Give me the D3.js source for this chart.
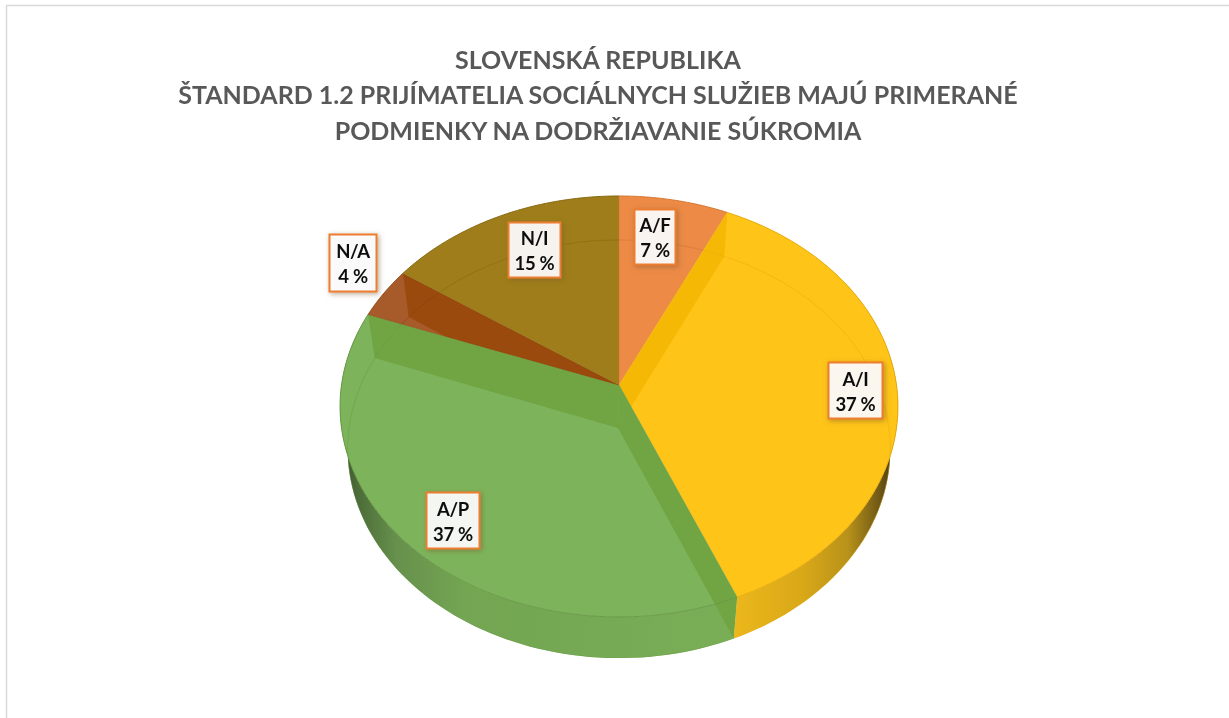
<!DOCTYPE html>
<html><head><meta charset="utf-8">
<script src="https://cdn.jsdelivr.net/npm/d3@7/dist/d3.min.js"></script>
<style>html,body{margin:0;background:#fff}svg{display:block}text{font-family:Lato,"Open Sans",sans-serif;font-weight:700}</style>
</head><body><svg id="c" width="1229" height="718"></svg>
<script>
// data
const categories = ["A/F","A/I","A/P","N/A","N/I"];
const values = [7,36.7,37,3.9,15.4];
const titleLines = ["SLOVENSKÁ REPUBLIKA","ŠTANDARD 1.2 PRIJÍMATELIA SOCIÁLNYCH SLUŽIEB MAJÚ PRIMERANÉ","PODMIENKY NA DODRŽIAVANIE SÚKROMIA"];
const topColors = ["#EC8A46","#FFC418","#7DB45B","#A85B2A","#9E7D1A"];
const wallColors = ["#EC8A46","#F5B804","#71A442","#9A4A0C","#9E7D1A"];
const rimColors = ["#D5762F","#E8AE10","#6A9C48","#8A420C","#876A10"];
// layout of the label boxes (centres) – not data
const labelCentres = [[655,237],[855.5,390.5],[453,520.5],[353,263],[534.5,250]];

const svg = d3.select("#c");
const defs = svg.append("defs");

// perspective projection of the pie's two discs
const disc = (cy,g,f,k) => (a,r=1) => {
  const u = Math.sin(a)*r, v = -Math.cos(a)*r, d = 1-k*v;
  return [619+g*u/d, cy+f*v/d];
};
const topDisc = disc(385,277.5,208.3,0.102);
const botDisc = disc(428,270,207,0.1005);
const line = d3.line();
const arcPts = (fn,a0,a1) => d3.range(0,1.0001,1/80).map(t => fn(a0+(a1-a0)*t));

const arcs = d3.pie().sort(null)(values);

// frame
svg.append("path").attr("d","M6.5,718V5.5H1229").attr("fill","none").attr("stroke","#D9D9D9").attr("stroke-width",1.5);

const soft = defs.append("filter").attr("id","soft").attr("x","-5%").attr("y","-10%").attr("width","110%").attr("height","120%");
soft.append("feGaussianBlur").attr("stdDeviation",0.35);

// title
svg.append("g").attr("filter","url(#soft)").selectAll("text").data(titleLines).join("text")
  .attr("x",598).attr("y",(d,i)=>[69,104,140][i]).attr("text-anchor","middle")
  .attr("font-size",25).attr("fill","#595959").text(d=>d);

// side gradients
const grad = (id,stops) => {
  const g = defs.append("linearGradient").attr("id",id).attr("gradientUnits","userSpaceOnUse")
    .attr("x1",340).attr("x2",898).attr("y1",0).attr("y2",0);
  stops.forEach(s=>g.append("stop").attr("offset",s[0]).attr("stop-color",s[1]));
};
grad("sideG",[[0,"#3A5228"],[0.03,"#4C6B38"],[0.1,"#66904C"],[0.22,"#73A552"],[0.7,"#7AAE56"],[1,"#7AAE56"]]);
grad("sideY",[[0,"#EDB81C"],[0.7,"#EDB81C"],[0.83,"#D9A818"],[0.91,"#B8921A"],[0.97,"#6B5515"],[1,"#3A3010"]]);
const sideFill = ["none","url(#sideY)","url(#sideG)","none","none"];

const f = defs.append("filter").attr("id","sh").attr("x","-30%").attr("y","-30%").attr("width","170%").attr("height","170%");
f.append("feDropShadow").attr("dx",1.5).attr("dy",1.5).attr("stdDeviation",2.5).attr("flood-color","#7a5a30").attr("flood-opacity",.55);

const secPath = (a) => line([[619,385],...arcPts(topDisc,a.startAngle,a.endAngle)])+"Z";
const sidePath = (a) => line([...arcPts(topDisc,a.startAngle,a.endAngle),...arcPts(botDisc,a.startAngle,a.endAngle).reverse()])+"Z";
const wallPath = (ang) => line([[619,385],topDisc(ang),botDisc(ang),[618,428]])+"Z";

arcs.forEach((a,i)=>{
  const cp = defs.append("clipPath").attr("id","cl"+i);
  cp.append("path").attr("d",secPath(a));
  if(sideFill[i]!=="none") cp.append("path").attr("d",sidePath(a));
});

const pie = svg.append("g");
// sides first
arcs.forEach((a,i)=>{
  if(sideFill[i]!=="none") pie.append("path").attr("d",sidePath(a)).attr("fill",sideFill[i]);
});
// top faces
arcs.forEach((a,i)=>{
  pie.append("path").attr("d",secPath(a)).attr("fill",topColors[i]);
  const g = pie.append("g").attr("clip-path",`url(#cl${i})`);
  [a.startAngle,a.endAngle].forEach(ang=>{
    g.append("path").attr("d",wallPath(ang)).attr("fill",wallColors[i]);
  });
  // lower rim seen through the face
  g.append("path").attr("d",line(arcPts(botDisc,0,2*Math.PI))).attr("fill","none")
    .attr("stroke",rimColors[i]).attr("stroke-width",1).attr("stroke-opacity",.55);
});
// outlines of the top edge
arcs.forEach((a,i)=>{
  pie.append("path").attr("d",line(arcPts(topDisc,a.startAngle,a.endAngle))).attr("fill","none")
    .attr("stroke",rimColors[i]).attr("stroke-width",1);
  pie.append("path").attr("d",line([[619,385],topDisc(a.startAngle)])).attr("fill","none")
    .attr("stroke",rimColors[i]).attr("stroke-width",.6).attr("stroke-opacity",.7);
});

// labels
const sizes = [[41,55],[54,56],[53,56],[47,57],[52,55]];
const lab = svg.append("g").selectAll("g").data(categories).join("g")
  .attr("transform",(d,i)=>`translate(${labelCentres[i]})`);
lab.append("rect")
  .attr("x",(d,i)=>-sizes[i][0]/2).attr("y",(d,i)=>-sizes[i][1]/2)
  .attr("width",(d,i)=>sizes[i][0]).attr("height",(d,i)=>sizes[i][1])
  .attr("fill","#fff").attr("fill-opacity",.9).attr("stroke","#ED7D31").attr("stroke-width",2)
  .attr("filter","url(#sh)");
const tg = lab.append("g").attr("filter","url(#soft)");
tg.append("text").attr("text-anchor","middle").attr("y",-5).attr("font-size",18.5).attr("letter-spacing",-0.3).attr("fill","#111").text(d=>d);
tg.append("text").attr("text-anchor","middle").attr("y",20).attr("font-size",18.5).attr("letter-spacing",-0.3).attr("fill","#111").text((d,i)=>Math.round(values[i])+" %");
</script></body></html>
